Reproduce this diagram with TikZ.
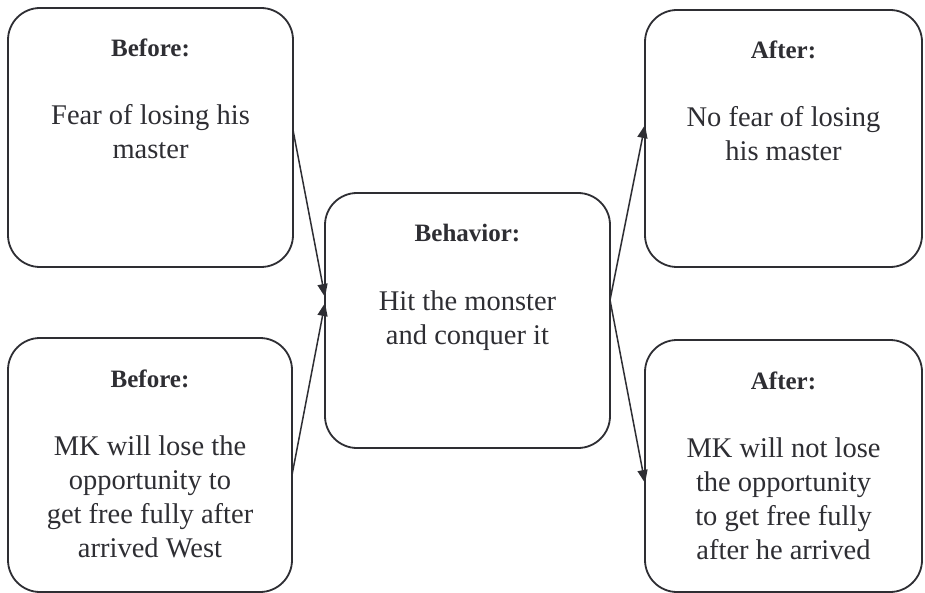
\documentclass[tikz,border=0pt]{standalone}
\usepackage{fontspec}
\setmainfont{Liberation Serif}
\usetikzlibrary{arrows.meta}
\definecolor{ink}{HTML}{2E2E33}
\begin{document}
\begin{tikzpicture}[x=1pt,y=-1pt,
  box/.style={draw=ink, line width=1.8pt, rounded corners=32pt, inner sep=0pt, outer sep=0pt},
  head/.style={anchor=base, inner sep=0pt, text=ink, font=\bfseries\fontsize{25}{30}\selectfont},
  body/.style={anchor=north, inner sep=0pt, align=center, text=ink, font=\fontsize{28.5}{34}\selectfont},
  conn/.style={draw=ink, line width=1.5pt, -{Triangle[length=13pt,width=10pt]}}
]
\fill[white] (0,0) rectangle (925,593);
\useasboundingbox (0,0) rectangle (925,593);

% boxes
\node[box, minimum width=285pt, minimum height=259pt] (tl) at (150.5,137.5) {};
\node[box, minimum width=284pt, minimum height=254pt] (bl) at (150,465) {};
\node[box, minimum width=285pt, minimum height=255pt] (c)  at (467.5,320.5) {};
\node[box, minimum width=277pt, minimum height=257pt] (tr) at (783.5,138.5) {};
\node[box, minimum width=277pt, minimum height=252pt] (br) at (783.5,466) {};

% headings
\node[head] (tlh) at ([yshift=-49pt]tl.north) {Before:};
\node[head] (blh) at ([yshift=-49pt]bl.north) {Before:};
\node[head] (ch)  at ([yshift=-49pt]c.north)  {Behavior:};
\node[head] (trh) at ([yshift=-49pt]tr.north) {After:};
\node[head] (brh) at ([yshift=-49pt]br.north) {After:};

% body texts
\node[body] (tlb) at ([yshift=-93pt]tl.north) {\strut Fear of losing his\\master};
\node[body] (blb) at ([yshift=-93pt]bl.north) {\strut MK will lose the\\opportunity to\\get free fully after\\arrived West};
\node[body] (cb)  at ([yshift=-93pt]c.north)  {\strut Hit the monster\\and conquer it};
\node[body] (trb) at ([yshift=-93pt]tr.north) {\strut No fear of losing\\his master};
\node[body] (brb) at ([yshift=-93pt]br.north) {\strut MK will not lose\\the opportunity\\to get free fully\\after he arrived};

% connectors
\draw[conn] ([yshift=7.5pt]tl.east) -- ([yshift=23.5pt]c.west);
\draw[conn] ([yshift=-10pt]bl.east) -- ([yshift=17.5pt]c.west);
\draw[conn] ([yshift=20.5pt]c.east) -- ([yshift=13.5pt]tr.west);
\draw[conn] ([yshift=20.5pt]c.east) -- ([yshift=-17pt]br.west);
\end{tikzpicture}
\end{document}
